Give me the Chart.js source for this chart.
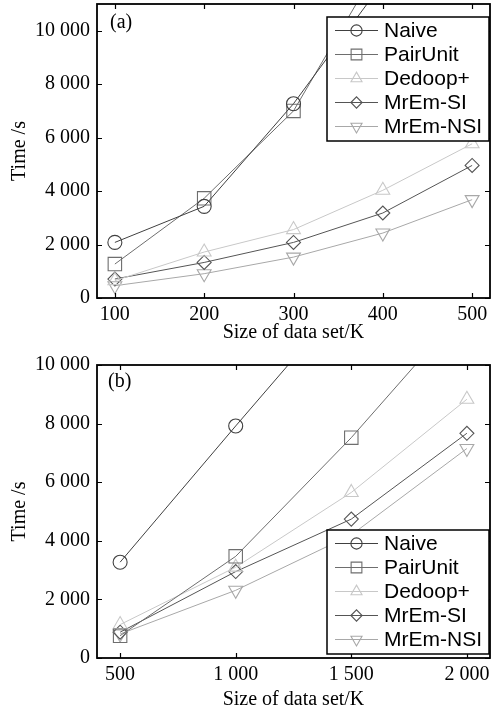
<!DOCTYPE html>
<html><head><meta charset="utf-8">
<script src="https://cdn.jsdelivr.net/npm/chart.js@4.4.1/dist/chart.umd.min.js"></script>
<style>
html,body{margin:0;padding:0;background:#fff;overflow:hidden;width:491px;height:716px}
canvas{position:absolute;left:0}
#ca{top:0}
#cb{top:350px}
</style></head>
<body>
<canvas id="ca" width="491" height="350"></canvas>
<canvas id="cb" width="491" height="366"></canvas>
<script>
// ---------- data ----------
const seriesNames = ['Naive', 'PairUnit', 'Dedoop+', 'MrEm-SI', 'MrEm-NSI'];

// panel (a)
const sizesA = [100, 200, 300, 400, 500];
const naiveA = [2080, 3430, 7270, 11800, 17000];
const pairUnitA = [1270, 3730, 7000, 12700, 18000];
const dedoopA = [650, 1720, 2560, 4030, 5770];
const mrEmSIA = [710, 1330, 2080, 3180, 4960];
const mrEmNSIA = [460, 910, 1530, 2430, 3680];
const xTicksA = [100, 200, 300, 400, 500];
const yTicksA = [0, 2000, 4000, 6000, 8000, 10000];

// panel (b)
const sizesB = [500, 1000, 1500, 2000];
const naiveB = [3270, 7920, 12500, 17000];
const pairUnitB = [760, 3470, 7520, 12000];
const dedoopB = [1140, 3100, 5650, 8830];
const mrEmSIB = [880, 2950, 4740, 7670];
const mrEmNSIB = [820, 2310, 4200, 7150];
const xTicksB = [500, 1000, 1500, 2000];
const yTicksB = [0, 2000, 4000, 6000, 8000, 10000];

// ---------- styles ----------
const colors = ['#404040', '#6e6e6e', '#c8c8c8', '#555555', '#a8a8a8'];
const pStyles = ['circle', 'rect', 'triangle', 'rectRot', 'triangle'];
const pRadius = [7, 9.5, 8, 7, 8];
const pRot = [0, 0, 0, 0, 180];
const SERIF = '"Liberation Serif", "Times New Roman", serif';
const SANS = '"Liberation Sans", Arial, sans-serif';

const fmt = v => String(v).replace(/\B(?=(\d{3})+(?!\d))/g, ' ');

function makeDatasets(xs, lists) {
  return lists.map((vals, i) => ({
    label: seriesNames[i],
    data: xs.map((x, j) => ({x: x, y: vals[j]})),
    borderColor: colors[i],
    borderWidth: 1,
    pointStyle: pStyles[i],
    pointRadius: pRadius[i],
    pointRotation: pRot[i],
    pointBorderWidth: 1.1,
    pointBorderColor: colors[i],
    pointBackgroundColor: 'rgba(0,0,0,0)',
    pointHoverRadius: pRadius[i],
    fill: false,
    tension: 0
  }));
}

const framePlugin = {
  id: 'framePlugin',
  afterDraw(chart, args, o) {
    const ctx = chart.ctx, a = chart.chartArea;
    const xs = chart.scales.x, ys = chart.scales.y;
    ctx.save();
    ctx.strokeStyle = '#000';
    ctx.lineWidth = 1.2;
    ctx.beginPath();
    xs.ticks.forEach(t => {
      const px = Math.round(xs.getPixelForValue(t.value)) + 0.5;
      ctx.moveTo(px, a.bottom); ctx.lineTo(px, a.bottom - 5);
      ctx.moveTo(px, a.top); ctx.lineTo(px, a.top + 5);
    });
    ys.ticks.forEach(t => {
      const py = Math.round(ys.getPixelForValue(t.value)) + 0.5;
      ctx.moveTo(a.left, py); ctx.lineTo(a.left + 5, py);
      ctx.moveTo(a.right, py); ctx.lineTo(a.right - 5, py);
    });
    ctx.stroke();
    ctx.lineWidth = 1.8;
    ctx.strokeRect(a.left, a.top, a.right - a.left, a.bottom - a.top);

    // panel label
    ctx.fillStyle = '#000';
    ctx.font = '20px ' + SERIF;
    ctx.textAlign = 'left';
    ctx.textBaseline = 'middle';
    ctx.fillText(o.label, a.left + o.lx, a.top + o.ly);

    // legend
    const w = 162, h = 124, rowH = 24;
    const right = a.right - 1, left = right - w;
    const top = o.legendAt === 'top' ? a.top + o.inset : a.bottom - o.inset - h;
    ctx.fillStyle = '#fff';
    ctx.fillRect(left, top, w, h);
    ctx.lineWidth = 1.5;
    ctx.strokeStyle = '#000';
    ctx.strokeRect(left, top, w, h);
    ctx.font = '21px ' + SANS;
    chart.data.datasets.forEach((d, i) => {
      const cy = top + 13.5 + i * rowH;
      ctx.strokeStyle = d.borderColor;
      ctx.lineWidth = 1;
      ctx.beginPath();
      ctx.moveTo(left + 8, cy); ctx.lineTo(left + 51, cy);
      ctx.stroke();
      ctx.fillStyle = 'rgba(0,0,0,0)';
      ctx.lineWidth = 1.1;
      Chart.helpers.drawPoint(ctx, {
        pointStyle: d.pointStyle, rotation: d.pointRotation,
        radius: d.pointRadius * 0.8, borderWidth: 1.1
      }, left + 29.5, cy);
      ctx.fillStyle = '#000';
      ctx.textAlign = 'left';
      ctx.textBaseline = 'middle';
      ctx.fillText(d.label, left + 57, cy + 1);
    });
    ctx.restore();
  }
};

function makeChart(id, xs, lists, xMin, xMax, yMax, xTicks, yTicks, xAxisH, padTop, titleBottom, frameOpts) {
  return new Chart(document.getElementById(id), {
    type: 'line',
    data: {datasets: makeDatasets(xs, lists)},
    plugins: [framePlugin],
    options: {
      responsive: false,
      animation: false,
      events: [],
      layout: {autoPadding: false, padding: {top: padTop, right: 1, left: 0, bottom: 0}},
      plugins: {legend: {display: false}, tooltip: {enabled: false}, framePlugin: frameOpts},
      scales: {
        x: {
          type: 'linear', min: xMin, max: xMax,
          afterBuildTicks: s => { s.ticks = xTicks.map(v => ({value: v})); },
          afterFit: s => { s.height = xAxisH; s.paddingLeft = 0; s.paddingRight = 0; },
          grid: {display: false, drawTicks: false},
          border: {display: false},
          ticks: {callback: v => fmt(v), color: '#000', font: {family: SERIF, size: 20}, padding: 5, maxRotation: 0, autoSkip: false},
          title: {display: true, text: 'Size of data set/K', color: '#000', font: {family: SERIF, size: 20}, padding: {top: 0, bottom: titleBottom}}
        },
        y: {
          type: 'linear', min: 0, max: yMax,
          afterBuildTicks: s => { s.ticks = yTicks.map(v => ({value: v})); },
          afterFit: s => { s.width = 97; s.paddingTop = 0; s.paddingBottom = 0; },
          grid: {display: false, drawTicks: false},
          border: {display: false},
          ticks: {callback: v => fmt(v), color: '#000', font: {family: SERIF, size: 20}, padding: 7, autoSkip: false},
          title: {display: true, text: 'Time /s', color: '#000', font: {family: SERIF, size: 20}, padding: {top: 8, bottom: 0}}
        }
      }
    }
  });
}

makeChart('ca', sizesA, [naiveA, pairUnitA, dedoopA, mrEmSIA, mrEmNSIA],
  80, 520, 11000, xTicksA, yTicksA, 52, 4, 5,
  {label: '(a)', lx: 13, ly: 19, legendAt: 'top', inset: 13});
makeChart('cb', sizesB, [naiveB, pairUnitB, dedoopB, mrEmSIB, mrEmNSIB],
  400, 2100, 10000, xTicksB, yTicksB, 58, 15, 4,
  {label: '(b)', lx: 11, ly: 17, legendAt: 'bottom', inset: 4});
</script>
</body></html>
